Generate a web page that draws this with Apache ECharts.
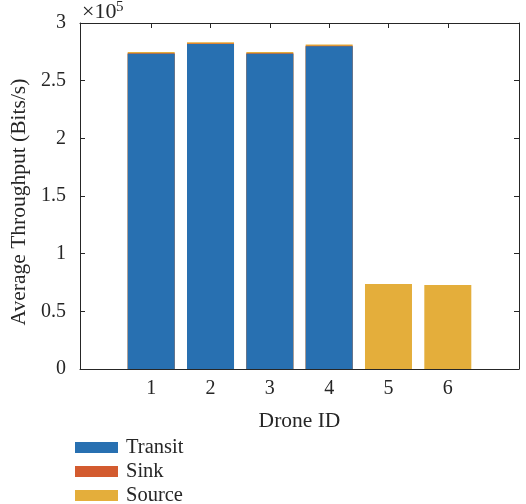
<!DOCTYPE html>
<html>
<head>
<meta charset="utf-8">
<script src="https://cdn.jsdelivr.net/npm/echarts@6/dist/echarts.min.js"></script>
<style>
  html, body { margin: 0; padding: 0; background: #fff; }
  #chart { width: 526px; height: 504px; }
</style>
</head>
<body>
<div id="chart"></div>
<script>
// drone ids on the x axis
const droneIds = [1, 2, 3, 4, 5, 6]
// average throughput per role (bits/s)
const transit = [273400, 281800, 273400, 279800, 0, 0]
const sink = [400, 400, 400, 400, 0, 0]
const source = [1100, 1100, 1100, 1100, 73700, 72800]
// y tick labels are shown in units of 1e5
const yTicks = [0, 50000, 100000, 150000, 200000, 250000, 300000]

const axisColor = '#262626'
const font = 'Liberation Serif'

// bars are overlaid (front to back: Transit, Sink, Source) so the tops show the stack
const transitTop = droneIds.map((id, i) => [id, transit[i]])
const sinkTop = droneIds.map((id, i) => [id, transit[i] + sink[i]])
const sourceTop = droneIds.map((id, i) => [id, transit[i] + sink[i] + source[i]])

const barBase = {
    type: 'bar',
    barWidth: 47,
    barGap: '-100%',
    silent: true,
    emphasis: { disabled: true }
}

const option = {
    animation: false,
    backgroundColor: '#fff',
    textStyle: { fontFamily: font },
    // exponent marker above the y axis
    graphic: [{
        type: 'text',
        left: 82,
        top: 1,
        silent: true,
        style: { text: '×10', font: '22px "Liberation Serif"', fill: axisColor }
    }, {
        type: 'text',
        left: 116,
        top: 0,
        silent: true,
        style: { text: '5', font: '15px "Liberation Serif"', fill: axisColor }
    }],
    grid: {
        left: 80,
        right: 7,
        top: 23,
        bottom: 135
    },
    legend: {
        orient: 'vertical',
        left: 75,
        top: 437,
        height: 80,
        padding: 0,
        itemWidth: 43,
        itemHeight: 11,
        itemGap: 3,
        icon: 'rect',
        data: ['Transit', 'Sink', 'Source'],
        textStyle: {
            fontFamily: font,
            fontSize: 20.5,
            lineHeight: 20,
            color: axisColor,
            padding: [0, 0, 0, 3]
        }
    },
    xAxis: [{
        type: 'value',
        min: -0.2,
        max: 7.2,
        name: 'Drone ID',
        nameLocation: 'middle',
        nameGap: 41,
        nameTextStyle: { fontFamily: font, fontSize: 21.5, color: axisColor },
        axisLine: { show: true, onZero: false, lineStyle: { color: axisColor, width: 1 } },
        axisTick: { show: true, inside: true, length: 5, customValues: droneIds, lineStyle: { color: axisColor } },
        axisLabel: { customValues: droneIds, fontFamily: font, fontSize: 20, color: axisColor, margin: 10 },
        splitLine: { show: false }
    }, {
        type: 'value',
        position: 'top',
        min: -0.2,
        max: 7.2,
        axisLine: { show: true, onZero: false, lineStyle: { color: axisColor, width: 1 } },
        axisTick: { show: true, inside: true, length: 5, customValues: droneIds, lineStyle: { color: axisColor } },
        axisLabel: { show: false },
        splitLine: { show: false }
    }],
    yAxis: [{
        type: 'value',
        min: 0,
        max: 300000,
        interval: 50000,
        name: 'Average Throughput (Bits/s)',
        nameLocation: 'middle',
        nameGap: 43,
        nameTextStyle: { fontFamily: font, fontSize: 21.5, color: axisColor, padding: [0, 12, 0, 0] },
        axisLine: { show: true, onZero: false, lineStyle: { color: axisColor, width: 1 } },
        axisTick: { show: true, inside: true, length: 5, customValues: yTicks, lineStyle: { color: axisColor } },
        axisLabel: {
            fontFamily: font,
            fontSize: 20,
            color: axisColor,
            margin: 14,
            formatter: v => String(v / 100000)
        },
        splitLine: { show: false }
    }, {
        type: 'value',
        position: 'right',
        min: 0,
        max: 300000,
        interval: 50000,
        axisLine: { show: true, onZero: false, lineStyle: { color: axisColor, width: 1 } },
        axisTick: { show: true, inside: true, length: 5, lineStyle: { color: axisColor } },
        axisLabel: { show: false },
        splitLine: { show: false }
    }],
    series: [
        Object.assign({}, barBase, { name: 'Source', data: sourceTop, itemStyle: { color: '#E4AE3B' } }),
        Object.assign({}, barBase, { name: 'Sink', data: sinkTop, itemStyle: { color: '#D35B2F' } }),
        Object.assign({}, barBase, { name: 'Transit', data: transitTop, itemStyle: { color: '#2870B1' } })
    ]
}

const chart = echarts.init(document.getElementById('chart'))
chart.setOption(option)
</script>
</body>
</html>
